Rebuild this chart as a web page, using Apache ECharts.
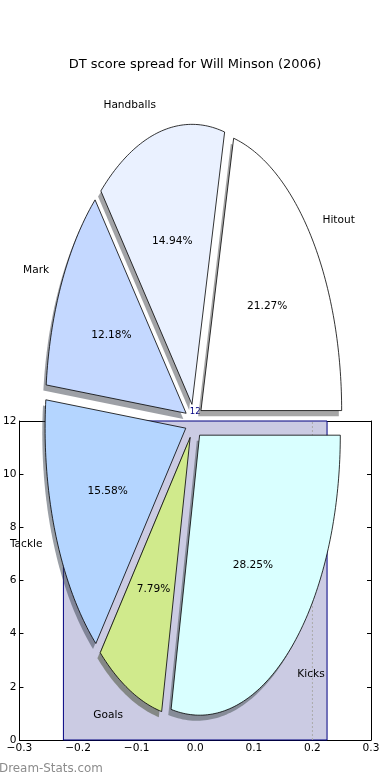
<!DOCTYPE html>
<html><head><meta charset="utf-8">
<script src="https://cdn.jsdelivr.net/npm/echarts@6/dist/echarts.min.js"></script>
<style>html,body{margin:0;padding:0;background:#fff}#c{width:390px;height:780px}</style>
</head><body><div id="c"></div>
<script>
// ---- data ----
const sliceLabels = ['Hitout', 'Handballs', 'Mark', 'Tackle', 'Goals', 'Kicks'];
const sliceValues = [21.27, 14.94, 12.18, 15.58, 7.79, 28.25];
const sliceColors = ['#ffffff', '#eaf1ff', '#c4d8ff', '#b4d5ff', '#d0ea8c', '#d9ffff'];
const barCenters = [0];
const barValues = [12];
const xTicks = [-0.3, -0.2, -0.1, 0.0, 0.1, 0.2, 0.3];
const yTicks = [0, 2, 4, 6, 8, 10, 12];
const refLineX = [0.2];
const titleText = 'DT score spread for Will Minson (2006)';
const watermark = 'Dream-Stats.com';

// ---- styling constants ----
const FONT = '"DejaVu Sans", sans-serif';
const EXPLODE = 0.063, LABEL_DIST = 1.1, PCT_DIST = 0.6;
const SHADOW_OFF = [-0.02, -0.02];
const BAR_WIDTH = 0.45;

const total = sliceValues.reduce((a, b) => a + b, 0);
let acc = 0;
const slices = sliceValues.map((v) => {
  const t1 = acc / total * 360; acc += v; const t2 = acc / total * 360;
  return { t1, t2, mid: (t1 + t2) / 2 * Math.PI / 180 };
});

function wedgePoints(api, i, dx, dy) {
  const s = slices[i];
  const cx = EXPLODE * Math.cos(s.mid) + dx, cy = EXPLODE * Math.sin(s.mid) + dy;
  const pts = [api.coord([cx, cy])];
  const n = Math.max(4, Math.ceil(s.t2 - s.t1));
  for (let k = 0; k <= n; k++) {
    const t = (s.t1 + (s.t2 - s.t1) * k / n) * Math.PI / 180;
    pts.push(api.coord([cx + Math.cos(t), cy + Math.sin(t)]));
  }
  return pts;
}

function shadowColor(hex) {
  const r = parseInt(hex.substr(1, 2), 16), g = parseInt(hex.substr(3, 2), 16), b = parseInt(hex.substr(5, 2), 16);
  return 'rgba(' + Math.round(r * 0.3) + ',' + Math.round(g * 0.3) + ',' + Math.round(b * 0.3) + ',0.5)';
}

const fmtX = v => { if (Math.abs(v) < 1e-9) return '0.0'; return v.toFixed(1).replace('-', '\u2212'); };

const chart = echarts.init(document.getElementById('c'), null, { renderer: 'canvas' });
const smallFont = 10.6;

const axisCommon = {
  splitLine: { show: false },
  axisLine: { show: true, onZero: false, lineStyle: { color: '#000', width: 1 } },
  axisTick: { show: true, inside: true, length: 4, lineStyle: { color: '#000', width: 1 } },
};

chart.setOption({
  animation: false,
  backgroundColor: '#fff',
  title: [{
    text: titleText, left: 'center', top: 53,
    textStyle: { fontSize: 13, fontWeight: 'normal', color: '#000', fontFamily: FONT }
  }],
  graphic: [{
    type: 'text', left: -1, top: 763,
    style: { text: watermark, fill: '#8c8c8c', font: '11.9px ' + FONT }
  }],
  grid: [
    { left: 19, right: 19, top: 421, bottom: 40, containLabel: false },
    { left: 53.3, width: 281.4, top: 141.5, height: 560, containLabel: false }
  ],
  xAxis: [
    Object.assign({}, axisCommon, {
      gridIndex: 0, type: 'value', position: 'bottom',
      min: xTicks[0], max: xTicks[xTicks.length - 1], interval: 0.1,
      axisLabel: { margin: 3, fontSize: smallFont, color: '#000', fontFamily: FONT, formatter: fmtX, showMinLabel: true, showMaxLabel: true }
    }),
    Object.assign({}, axisCommon, {
      gridIndex: 0, type: 'value', position: 'top',
      min: xTicks[0], max: xTicks[xTicks.length - 1], interval: 0.1,
      axisLabel: { show: false }
    }),
    { gridIndex: 1, type: 'value', min: -1, max: 1, show: false }
  ],
  yAxis: [
    Object.assign({}, axisCommon, {
      gridIndex: 0, type: 'value', position: 'left',
      min: yTicks[0], max: yTicks[yTicks.length - 1], interval: 2,
      axisLabel: { margin: 3, fontSize: smallFont, color: '#000', fontFamily: FONT }
    }),
    Object.assign({}, axisCommon, {
      gridIndex: 0, type: 'value', position: 'right',
      min: yTicks[0], max: yTicks[yTicks.length - 1], interval: 2,
      axisLabel: { show: false }
    }),
    { gridIndex: 1, type: 'value', min: -1, max: 1, show: false }
  ],
  series: [
    {
      type: 'custom', name: 'bar', xAxisIndex: 0, yAxisIndex: 0, z: 1,
      data: barCenters.map((c, i) => [c, barValues[i]]),
      renderItem: (params, api) => {
        const x = api.value(0), h = api.value(1);
        const p0 = api.coord([x - BAR_WIDTH / 2, h]);
        const p1 = api.coord([x + BAR_WIDTH / 2, 0]);
        const top = api.coord([x, h]);
        return {
          type: 'group', children: [
            { type: 'rect', shape: { x: p0[0], y: p0[1], width: p1[0] - p0[0], height: p1[1] - p0[1] },
              style: { fill: '#cbcbe3', stroke: '#000080', lineWidth: 1 } },
            { type: 'text', x: top[0], y: top[1] - 5,
              style: { text: String(h), fill: '#000080', font: '8.5px ' + FONT, align: 'center', verticalAlign: 'bottom' } }
          ]
        };
      }
    },
    {
      type: 'line', name: 'ref', xAxisIndex: 0, yAxisIndex: 0, z: 1.5,
      symbol: 'none', silent: true,
      data: [[refLineX[0], yTicks[0]], [refLineX[0], yTicks[yTicks.length - 1]]],
      lineStyle: { color: '#aaa', width: 1, type: [2, 2] }
    },
    {
      type: 'custom', name: 'shadows', xAxisIndex: 2, yAxisIndex: 2, z: 3,
      data: sliceValues.map((v, i) => [i, v]),
      renderItem: (params, api) => {
        const i = params.dataIndex;
        return { type: 'polygon', shape: { points: wedgePoints(api, i, SHADOW_OFF[0], SHADOW_OFF[1]) },
          style: { fill: shadowColor(sliceColors[i]) } };
      }
    },
    {
      type: 'custom', name: 'wedges', xAxisIndex: 2, yAxisIndex: 2, z: 4,
      data: sliceValues.map((v, i) => [i, v]),
      renderItem: (params, api) => {
        const i = params.dataIndex;
        const s = slices[i];
        const ox = EXPLODE * Math.cos(s.mid), oy = EXPLODE * Math.sin(s.mid);
        const lx = ox + LABEL_DIST * Math.cos(s.mid), ly = oy + LABEL_DIST * Math.sin(s.mid);
        const px = ox + PCT_DIST * Math.cos(s.mid), py = oy + PCT_DIST * Math.sin(s.mid);
        const lp = api.coord([lx, ly]), pp = api.coord([px, py]);
        const pct = (100 * api.value(1) / total).toFixed(2) + '%';
        return {
          type: 'group', children: [
            { type: 'polygon', shape: { points: wedgePoints(api, i, 0, 0) },
              style: { fill: sliceColors[i], stroke: '#000', lineWidth: 0.8 } },
            { type: 'text', x: lp[0], y: lp[1],
              style: { text: sliceLabels[i], fill: '#000', font: smallFont + 'px ' + FONT, align: lx > 0 ? 'left' : 'right', verticalAlign: 'middle' } },
            { type: 'text', x: pp[0], y: pp[1],
              style: { text: pct, fill: '#000', font: smallFont + 'px ' + FONT, align: 'center', verticalAlign: 'middle' } }
          ]
        };
      }
    }
  ]
});
</script>
</body></html>
